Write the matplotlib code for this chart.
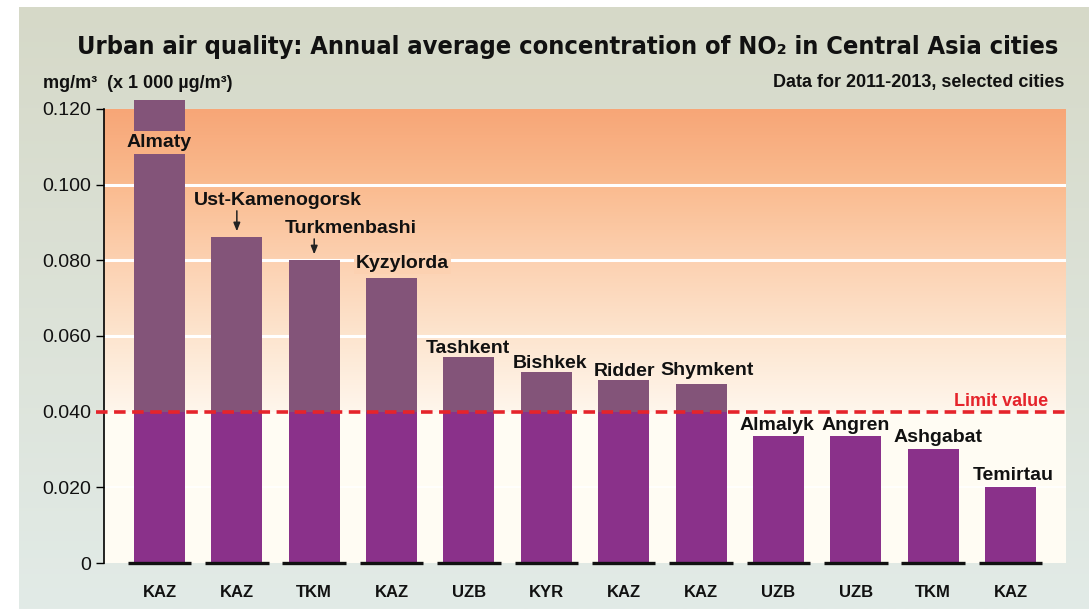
import numpy as np
import matplotlib
matplotlib.use("Agg")
import matplotlib.pyplot as plt
from matplotlib import font_manager
from matplotlib.colors import LinearSegmentedColormap

# Datos (mg/m3)
cities = ["Almaty", "Ust-Kamenogorsk", "Turkmenbashi", "Kyzylorda", "Tashkent", "Bishkek",
          "Ridder", "Shymkent", "Almalyk", "Angren", "Ashgabat", "Temirtau"]
countries = ["KAZ", "KAZ", "TKM", "KAZ", "UZB", "KYR", "KAZ", "KAZ", "UZB", "UZB", "TKM", "KAZ"]
no2 = [0.1223, 0.0862, 0.0801, 0.0753, 0.0544, 0.0505, 0.0484, 0.0473, 0.0336, 0.0336, 0.0301, 0.0201]
limit_value = 0.040
y_ticks = [0, 0.020, 0.040, 0.060, 0.080, 0.100, 0.120]
y_tick_labels = ["0", "0.020", "0.040", "0.060", "0.080", "0.100", "0.120"]

# Estilo
col_low = "#8a318a"
col_high = "#835479"
col_red = "#e5242b"
txt = "#111111"
plt.rcParams['font.family'] = ['Liberation Sans', 'DejaVu Sans']

# Buscar una fuente estrecha para el titulo, si la hay
narrow = None
for f in font_manager.fontManager.ttflist:
    if ("Narrow" in f.name or "Condensed" in f.name or f.stretch == "condensed") and f.weight in ("bold", 700):
        narrow = f.fname
        break
if narrow:
    title_kw = dict(fontproperties=font_manager.FontProperties(fname=narrow, size=18.2))
else:
    title_kw = dict(fontsize=17.2, fontweight="bold", family=["Liberation Sans", "DejaVu Sans"])

# offsets de etiquetas (px): dx, dy sobre la barra
label_off = [(0, 0), (41, 32), (37, 27), (11, 10), (-1, 4), (4, 4),
             (1, 4), (6, 9), (-2, 6), (0, 6), (5, 7), (3, 7)]
break_lo, break_hi = 0.1081, 0.1142   # corte de la barra de Almaty

fig = plt.figure(figsize=(10.89, 6.09), dpi=100, facecolor="white")

# Fondo del panel
bg = fig.add_axes([19 / 1089, 0, 1070 / 1089, 602 / 609], zorder=-10)
bg_cmap = LinearSegmentedColormap.from_list("bg", ["#e2ebe7", "#d6d9c8"])
bg.imshow(np.linspace(0, 1, 256).reshape(-1, 1), cmap=bg_cmap, aspect="auto",
          origin="lower", extent=(0, 1, 0, 1))
bg.set_axis_off()

ax = fig.add_axes([104 / 1089, 1 - 563 / 609, (1066 - 104) / 1089, (563 - 99.5) / 609])
x = np.arange(len(cities))
xmin, xmax = -0.717, len(cities) - 1 + 0.717
ax.set_xlim(xmin, xmax)
ax.set_ylim(0, 0.1225)
ax.patch.set_alpha(0)

# Zonas de fondo
ax.axhspan(0, limit_value, color="#fffcf3", zorder=0, lw=0)
grad = LinearSegmentedColormap.from_list(
    "g", ["#fff6ec", "#fde5cf", "#fcd1b1", "#fabb8f", "#f7a677"])
ax.imshow(np.linspace(0, 1, 256).reshape(-1, 1), cmap=grad, aspect="auto", origin="lower",
          extent=(xmin, xmax, limit_value, 0.120), zorder=0)
for yv in [0.060, 0.080, 0.100]:
    ax.axhline(yv, color="white", lw=2.2, zorder=1)
ax.axhline(0.020, color="white", lw=1.5, zorder=1, alpha=0.8)

# Barras
w = 0.66
lows = [min(v, limit_value) for v in no2]
ax.bar(x, lows, width=w, color=col_low, zorder=2)
for i, v in enumerate(no2):
    if v <= limit_value:
        continue
    if i == 0:
        ax.bar(i, break_lo - limit_value, bottom=limit_value, width=w, color=col_high, zorder=2)
        ax.bar(i, v - break_hi, bottom=break_hi, width=w, color=col_high, zorder=2, clip_on=False)
    else:
        ax.bar(i, v - limit_value, bottom=limit_value, width=w, color=col_high, zorder=2)

# Base negra de cada barra
ax.hlines([0] * len(x), x - 0.41, x + 0.41, color="#111111", lw=2.4, zorder=3, clip_on=False)

# Linea de valor limite
ax.axhline(limit_value, xmin=-0.008, xmax=1, color=col_red, lw=2.6, ls=(0, (3.2, 1.8)),
           zorder=4, clip_on=False)
ax.annotate("Limit value", xy=(1, limit_value), xycoords=("axes fraction", "data"),
            xytext=(-18, 6), textcoords="offset pixels", ha="right", va="baseline",
            fontsize=13, fontweight="bold", color=col_red)

# Etiquetas de ciudades
for i, (c, v) in enumerate(zip(cities, no2)):
    dx, dy = label_off[i]
    if i == 0:
        ax.text(i, (break_lo + break_hi) / 2, c, ha="center", va="center", fontsize=14,
                fontweight="bold", color=txt, zorder=5)
        continue
    kw = {}
    if c == "Kyzylorda":
        kw["bbox"] = dict(boxstyle="square,pad=0.1", fc="#fcd1b1", ec="none")
    ax.annotate(c, xy=(i, v), xytext=(dx, dy), textcoords="offset pixels", ha="center",
                va="baseline", fontsize=14, fontweight="bold", color=txt, zorder=5, **kw)
    if c in ("Ust-Kamenogorsk", "Turkmenbashi"):
        ax.annotate("", xy=(i, v), xytext=(0, dy - 6), textcoords="offset pixels",
                    xycoords="data",
                    arrowprops=dict(arrowstyle="-|>,head_length=0.5,head_width=0.2",
                                    color="#222222", lw=1.1, shrinkA=0, shrinkB=4))

# Ejes
for s in ["top", "right", "bottom"]:
    ax.spines[s].set_visible(False)
ax.spines["left"].set_bounds(0, 0.120)
ax.spines["left"].set_linewidth(1.2)
ax.set_yticks(y_ticks)
ax.set_yticklabels(y_tick_labels, fontsize=14, color="#111111")
ax.tick_params(axis="y", length=6, width=1, pad=3)
ax.set_xticks(x)
ax.set_xticklabels(countries, fontsize=12, fontweight="bold", color=txt)
ax.tick_params(axis="x", length=0, pad=16)

# Textos
fig.text(568 / 1089, 1 - 47 / 609, "Urban air quality: Annual average concentration of NO\u2082 in Central Asia cities",
         ha="center", va="center", color=txt, **title_kw)
fig.text(43 / 1089, 1 - 83 / 609, "mg/m\u00b3  (x 1 000 \u00b5g/m\u00b3)", ha="left", va="center",
         fontsize=13, fontweight="bold", color=txt)
fig.text(1064 / 1089, 1 - 83 / 609, "Data for 2011-2013, selected cities", ha="right", va="center",
         fontsize=13, fontweight="bold", color=txt)

fig.savefig("out.png", dpi=100, facecolor="white")
